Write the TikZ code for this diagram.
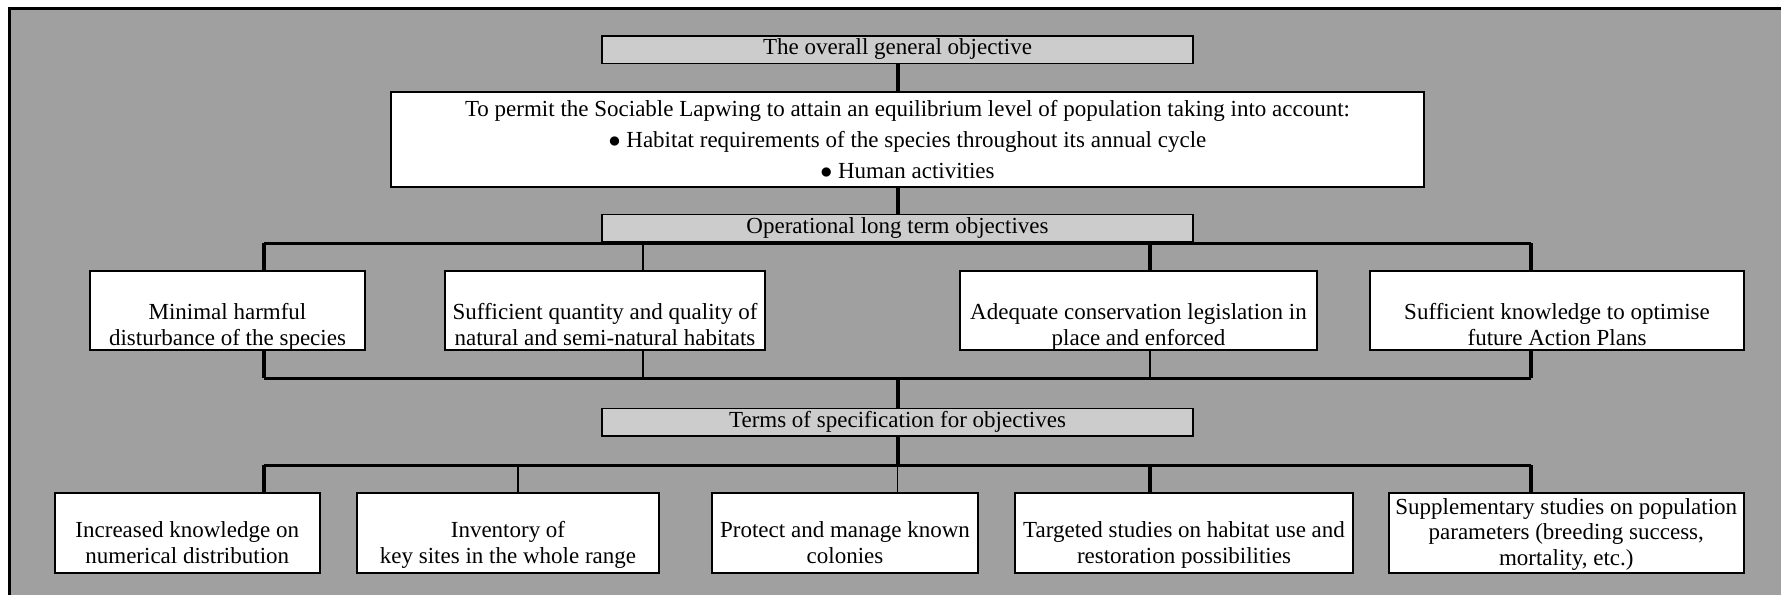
\documentclass[tikz,border=0pt]{standalone}
\usepackage{fontspec}
\setmainfont{Liberation Serif}
\definecolor{bggray}{RGB}{160,160,160}
\definecolor{headgray}{RGB}{204,204,204}
% bottom aligned lines inside a box of fixed height, dropped by #2
\newcommand{\lowlines}[3]{\vbox to #1{\vfill\hbox{\begin{tabular}{@{}c@{}}#3\end{tabular}}\kern-#2}}
\newcommand{\dotitem}{$\bullet$\ }
\begin{document}
\begin{tikzpicture}[x=0.5pt, y=-0.5pt,
                    every node/.style={font=\fontsize{11.5}{12.9}\selectfont},
                    headbox/.style={draw, line width=0.75pt, fill=headgray, minimum width=295.5pt, minimum height=13.75pt, inner sep=0pt},
                    objbox/.style={draw, line width=1pt, fill=white, minimum height=39.5pt, inner sep=0pt},
                    termbox/.style={draw, line width=1pt, fill=white, minimum height=40pt, inner sep=0pt},
                    thickline/.style={line width=2pt},
                    thinline/.style={line width=0.75pt},
                    barline/.style={line width=1.5pt}
                ]
\useasboundingbox (0,0) rectangle (1781,595);
\fill[white] (0,0) rectangle (1781,595);
\fill[bggray] (9,8) rectangle (1781,595);
\draw[line width=1.5pt] (9,595) -- (9,8) -- (1781,8);

% overall objective
\node [headbox] (gen) at (897.5,49.5) {The overall general objective};
\node [draw, line width=1pt, fill=white, minimum width=516.5pt, minimum height=47.5pt, align=center,
       font=\fontsize{11.5}{15.6}\selectfont] (main) at (907.5,139.5)
      {To permit the Sociable Lapwing to attain an equilibrium level of population taking into account:\\
       \dotitem Habitat requirements of the species throughout its annual cycle\\
       \dotitem Human activities};

% long term objectives
\node [headbox] (op) at (897.5,228) {Operational long term objectives};
\node [objbox, minimum width=137.5pt] (b1) at (227.5,310.5) {\lowlines{37.5pt}{2.6pt}{Minimal harmful\\ disturbance of the species}};
\node [objbox, minimum width=160pt] (b2) at (605,310.5) {\lowlines{37.5pt}{2.6pt}{Sufficient quantity and quality of\\ natural and semi-natural habitats}};
\node [objbox, minimum width=178.5pt] (b3) at (1138.5,310.5) {\lowlines{37.5pt}{2.6pt}{Adequate conservation legislation in\\ place and enforced}};
\node [objbox, minimum width=187pt] (b4) at (1557,310.5) {\lowlines{37.5pt}{2.6pt}{Sufficient knowledge to optimise\\ future Action Plans}};

% terms of specification
\node [headbox] (spec) at (897.5,422) {Terms of specification for objectives};
\node [termbox, minimum width=132.75pt] (c1) at (187.25,533) {\lowlines{37pt}{0.5pt}{Increased knowledge on\\ numerical distribution}};
\node [termbox, minimum width=151pt] (c2) at (508,533) {\lowlines{37pt}{0.5pt}{Inventory of\\ key sites in the whole range}};
\node [termbox, minimum width=133pt] (c3) at (845,533) {\lowlines{37pt}{0.5pt}{Protect and manage known\\ colonies}};
\node [termbox, minimum width=169pt] (c4) at (1184,533) {\lowlines{37pt}{0.5pt}{Targeted studies on habitat use and\\ restoration possibilities}};
\node [termbox, minimum width=177.75pt] (c5) at (1566.25,533) {\lowlines{37pt}{0.5pt}{Supplementary studies on population\\ parameters (breeding success,\\ mortality, etc.)}};

% joints on the bars
\coordinate (u1) at (264,243);  \coordinate (u2) at (643,243);
\coordinate (u3) at (1150,243); \coordinate (u4) at (1531,243);
\coordinate (l1) at (264,378);  \coordinate (l2) at (643,378);
\coordinate (l3) at (1150,378); \coordinate (l4) at (1531,378);
\coordinate (s1) at (264,465);  \coordinate (s2) at (518,465);
\coordinate (s3) at (897.5,465); \coordinate (s4) at (1150,465);
\coordinate (s5) at (1531,465);

\draw [thickline] (gen.south) -- (gen.south |- main.north);
\draw [thickline] (op.north |- main.south) -- (op.north);
\draw [barline] (u1) -- (u4);
\draw [thickline] (u1) -- (u1 |- b1.north);
\draw [thinline]  (u2) -- (u2 |- b2.north);
\draw [thickline] (u3) -- (u3 |- b3.north);
\draw [thickline] (u4) -- (u4 |- b4.north);
\draw [thickline] (b1.south -| l1) -- (l1);
\draw [thinline]  (b2.south -| l2) -- (l2);
\draw [thinline]  (b3.south -| l3) -- (l3);
\draw [thickline] (b4.south -| l4) -- (l4);
\draw [barline] (l1) -- (l4);
\draw [thickline] (spec.north |- l1) -- (spec.north);
\draw [thickline] (spec.south) -- (s3);
\draw [barline] (s1) -- (s5);
\draw [thickline] (s1) -- (s1 |- c1.north);
\draw [thinline]  (s2) -- (s2 |- c2.north);
\draw [thinline]  (s3) -- (s3 |- c3.north);
\draw [thickline] (s4) -- (s4 |- c4.north);
\draw [thickline] (s5) -- (s5 |- c5.north);
\end{tikzpicture}
\end{document}
